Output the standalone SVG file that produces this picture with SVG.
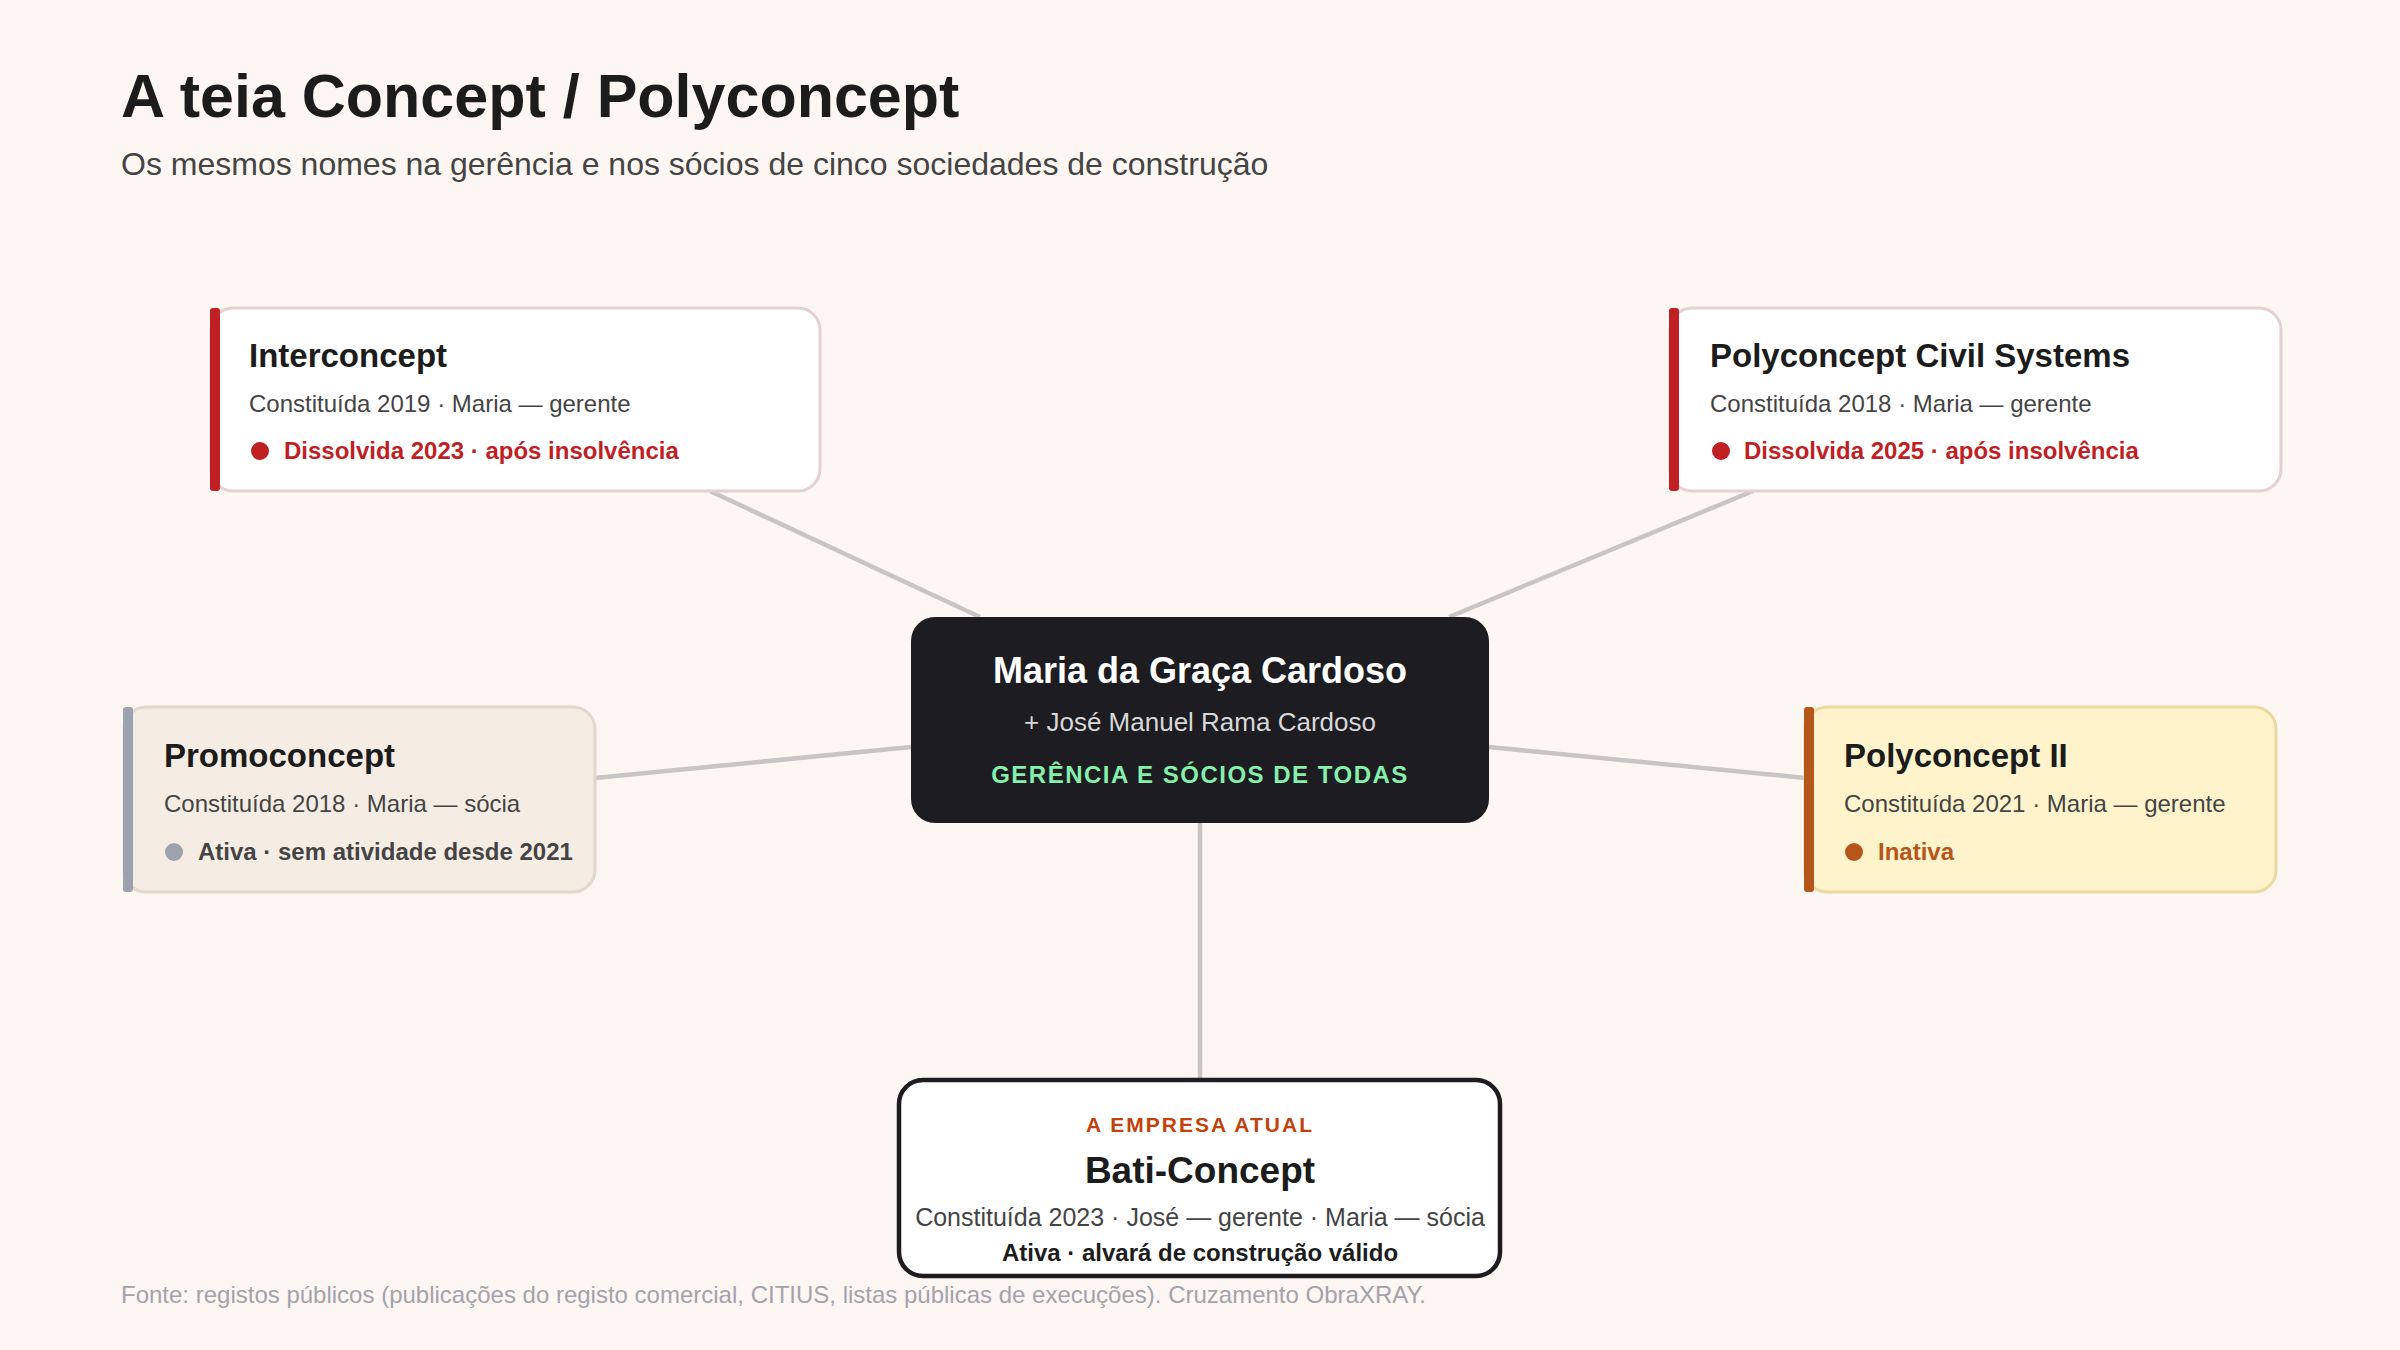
<svg xmlns="http://www.w3.org/2000/svg" width="2400" height="1350" viewBox="0 0 2400 1350">
<style>
text{font-family:"Liberation Sans",Arial,sans-serif}
.t{font-size:33px;font-weight:bold;fill:#1c1c1c}
.s{font-size:24px;fill:#444}
.r{font-size:24px;font-weight:bold;fill:#c01f24}
.c{stroke:#c9c5c5;stroke-width:4.5;fill:none}
.card{fill:#fff;stroke:#e6cfcf;stroke-width:3}
</style>
<rect width="2400" height="1350" fill="#fdf6f3"/>
<text x="121" y="117" font-size="61" font-weight="bold" fill="#1c1c1c">A teia Concept / Polyconcept</text>
<text x="121" y="175" font-size="32" fill="#444">Os mesmos nomes na gerência e nos sócios de cinco sociedades de construção</text>
<g id="connectors">
<line class="c" x1="710" y1="491" x2="980" y2="617"/>
<line class="c" x1="1753" y1="491" x2="1449" y2="617"/>
<line class="c" x1="595" y1="778" x2="911" y2="747"/>
<line class="c" x1="1489" y1="747" x2="1805" y2="778"/>
<line class="c" x1="1200" y1="823" x2="1200" y2="1079"/>
</g>
<g id="interconcept">
<rect class="card" x="211" y="308" width="609" height="183" rx="22"/>
<rect x="210" y="308" width="10" height="183" rx="3" fill="#c01f24"/>
<text class="t" x="249" y="367">Interconcept</text>
<text class="s" x="249" y="412">Constituída 2019 · Maria — gerente</text>
<circle cx="260" cy="451" r="9" fill="#c01f24"/>
<text class="r" x="284" y="459">Dissolvida 2023 · após insolvência</text>
</g>
<g id="polyconcept-civil">
<rect class="card" x="1670" y="308" width="611" height="183" rx="22"/>
<rect x="1669" y="308" width="10" height="183" rx="3" fill="#c01f24"/>
<text class="t" x="1710" y="367">Polyconcept Civil Systems</text>
<text class="s" x="1710" y="412">Constituída 2018 · Maria — gerente</text>
<circle cx="1721" cy="451" r="9" fill="#c01f24"/>
<text class="r" x="1744" y="459">Dissolvida 2025 · após insolvência</text>
</g>
<g id="promoconcept">
<rect x="124" y="707" width="471" height="185" rx="22" fill="#f5ece3" stroke="#e4d6cc" stroke-width="3"/>
<rect x="123" y="707" width="10" height="185" rx="3" fill="#9ca3af"/>
<text class="t" x="164" y="767">Promoconcept</text>
<text class="s" x="164" y="812">Constituída 2018 · Maria — sócia</text>
<circle cx="174" cy="852" r="9" fill="#9ca3af"/>
<text x="198" y="860" font-size="24" font-weight="bold" fill="#444">Ativa · sem atividade desde 2021</text>
</g>
<g id="polyconcept-ii">
<rect x="1805" y="707" width="471" height="185" rx="22" fill="#fff3cc" stroke="#ecd9a0" stroke-width="3"/>
<rect x="1804" y="707" width="10" height="185" rx="3" fill="#b5561a"/>
<text class="t" x="1844" y="767">Polyconcept II</text>
<text class="s" x="1844" y="812">Constituída 2021 · Maria — gerente</text>
<circle cx="1854" cy="852" r="9" fill="#b5561a"/>
<text x="1878" y="860" font-size="24" font-weight="bold" fill="#b5561a">Inativa</text>
</g>
<g id="center">
<rect x="911" y="617" width="578" height="206" rx="24" fill="#1c1c21"/>
<text x="1200" y="683" font-size="36" font-weight="bold" fill="#fff" text-anchor="middle">Maria da Graça Cardoso</text>
<text x="1200" y="731" font-size="26" fill="#d8d8d8" text-anchor="middle">+ José Manuel Rama Cardoso</text>
<text x="1200" y="783" font-size="24" font-weight="bold" fill="#86efac" text-anchor="middle" letter-spacing="1.5">GERÊNCIA E SÓCIOS DE TODAS</text>
</g>
<g id="bati-concept">
<rect x="899" y="1080" width="601" height="196" rx="24" fill="#fff" stroke="#1c1c21" stroke-width="4.5"/>
<text x="1200" y="1132" font-size="21" font-weight="bold" fill="#c2410c" text-anchor="middle" letter-spacing="2">A EMPRESA ATUAL</text>
<text x="1200" y="1183" font-size="37" font-weight="bold" fill="#1c1c1c" text-anchor="middle">Bati-Concept</text>
<text x="1200" y="1226" font-size="25" fill="#444" text-anchor="middle">Constituída 2023 · José — gerente · Maria — sócia</text>
<text x="1200" y="1261" font-size="24" font-weight="bold" fill="#1c1c1c" text-anchor="middle">Ativa · alvará de construção válido</text>
</g>
<text x="121" y="1303" font-size="24" fill="#a3a3ab">Fonte: registos públicos (publicações do registo comercial, CITIUS, listas públicas de execuções). Cruzamento ObraXRAY.</text>
</svg>
